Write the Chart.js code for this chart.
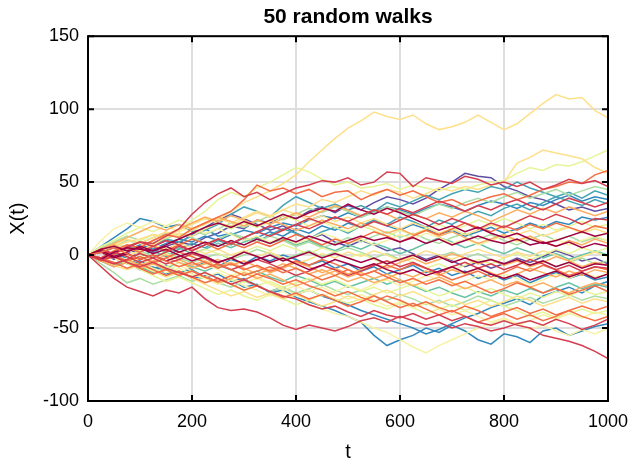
<!DOCTYPE html>
<html>
<head>
<meta charset="utf-8">
<title>50 random walks</title>
<script src="https://cdn.jsdelivr.net/npm/chart.js@4.4.1/dist/chart.umd.min.js"></script>
<style>
  body { margin: 0; background: #fff; }
  canvas { display: block; }
</style>
</head>
<body>
<canvas id="walks" width="630" height="465"></canvas>
<script>
// time steps (every 25th step of the walk)
const steps = [0, 25, 50, 75, 100, 125, 150, 175, 200, 225, 250, 275, 300, 325, 350, 375,
  400, 425, 450, 475, 500, 525, 550, 575, 600, 625, 650, 675, 700, 725, 750, 775,
  800, 825, 850, 875, 900, 925, 950, 975, 1000];

const xTicks = [0, 200, 400, 600, 800, 1000];
const yTicks = [-100, -50, 0, 50, 100, 150];

// X(t) of each walk at those steps
const w01 = [0,2,-3,1, 4,2,6,9, 7,12,15,20, 18,24,22,27, 25,30,33,29, 34,31,36,40, 38,35,39,45, 50,56,54,53, 47,44,40,38, 35,31,33,30, 32];
const w02 = [0,-2,-6,-3, 2,6,10,8, 14,19,24,28, 25,21,17,20, 15,11,14,9, 6,10,7,3, 5,1,-3,0, -4,-8,-5,-9, -6,-2,-5,-1, 3,0,-4,-2, -6];
const w03 = [0,-4,-8,-5, -10,-8,-13,-11, -16,-14,-19,-17, -22,-20,-26,-24, -29,-32,-35,-38, -42,-46,-55,-62, -58,-55,-50,-53, -48,-52,-58,-61, -54,-56,-60,-52, -50,-55,-52,-49, -47];
const w04 = [0,3,-2,-6, -4,-9,-7,-12, -10,-15,-13,-18, -16,-21,-25,-22, -27,-24,-28,-31, -34,-38,-41,-44, -47,-50,-54,-51, -47,-43,-40,-36, -33,-30,-34,-28, -25,-22,-26,-21, -18];
const w05 = [0,6,12,18, 25,23,19,21, 16,18,13,15, 10,12,16,13, 18,15,20,17, 22,19,24,20, 17,21,18,14, 17,13,16,19, 15,18,22,19, 23,21,26,24, 26];
const w06 = [0,-3,1,-2, -6,-10,-8,-12, -9,-5,-8,-3, -6,-1,-4,0, -3,-7,-4,-9, -6,-11,-8,-13, -10,-7,-12,-9, -14,-11,-16,-13, -17,-14,-19,-15, -12,-16,-13,-17, -15];
const w07 = [0,2,5,3, 7,4,8,11, 9,13,10,14, 17,15,19,22, 20,24,27,25, 29,26,30,33, 31,28,32,35, 33,30,34,37, 35,32,36,34, 38,41,37,40, 38];
const w08 = [0,-2,2,5, 3,7,11,9, 13,17,21,28, 33,30,26,34, 40,36,32,35, 31,34,30,36, 33,37,41,38, 42,45,43,47, 45,50,46,43, 40,37,34,38, 35];
const w09 = [0,3,0,-4, -1,3,-1,4, 8,5,10,7, 12,9,14,18, 15,11,16,19, 15,20,24,21, 26,23,19,24, 21,26,30,27, 32,35,31,36, 40,43,39,44, 41];
const w10 = [0,4,8,5, 9,6,2,5, 1,4,8,5, 9,12,8,11, 7,10,6,3, 7,4,8,5, 1,4,8,12, 9,5,8,4, 1,5,2,-2, 1,-3,0,3, 0];
const w11 = [0,-3,-7,-4, -8,-12,-9,-5, -8,-11,-7,-10, -14,-11,-15,-18, -14,-17,-21,-18, -22,-19,-16,-20, -17,-21,-25,-22, -26,-29,-25,-28, -24,-27,-23,-26, -22,-19,-23,-20, -22];
const w12 = [0,3,6,10, 8,12,15,13, 17,14,18,22, 19,23,27,24, 28,32,29,33, 30,26,29,33, 30,27,31,35, 32,36,39,36, 40,43,39,42, 45,41,44,47, 45];
const w13 = [0,-2,2,6, 3,-1,2,-2, -5,-2,1,-3, 0,4,1,-3, 0,3,-1,2, 5,2,-2,1, -3,0,-4,-1, 2,-2,1,-3, -6,-3,-7,-4, -8,-5,-2,-6, -4];
const w14 = [0,-6,-12,-19, -16,-20,-17,-14, -18,-15,-19,-22, -18,-21,-25,-22, -26,-23,-20,-24, -27,-24,-28,-31, -27,-30,-34,-31, -35,-32,-28,-31, -35,-32,-29,-33, -30,-27,-31,-28, -30];
const w15 = [0,5,9,13, 10,14,11,15, 12,8,11,15, 12,9,13,10, 6,9,5,8, 12,9,13,16, 12,15,11,8, 12,15,11,14, 10,7,11,14, 10,13,9,12, 10];
const w16 = [0,4,8,5, 10,14,12,18, 24,30,38,43, 40,46,50,55, 60,57,52,48, 50,46,47,49, 45,48,46,44, 47,45,48,50, 51,56,60,58, 62,61,64,68, 72];
const w17 = [0,-3,0,-4, -7,-4,-8,-11, -15,-12,-16,-20, -24,-21,-18,-22, -19,-16,-20,-17, -21,-25,-22,-26, -23,-20,-24,-28, -25,-22,-26,-23, -27,-30,-26,-29, -25,-28,-24,-27, -25];
const w18 = [0,2,-2,-6, -10,-14,-18,-15, -19,-23,-27,-24, -28,-31,-27,-30, -34,-31,-27,-30, -33,-30,-34,-37, -33,-36,-40,-37, -34,-38,-35,-31, -35,-38,-42,-39, -43,-40,-37,-40, -38];
const w19 = [0,4,1,5, 2,-2,1,-3, 0,4,1,-2, 2,6,3,7, 4,1,5,2, -2,1,-3,-6, -2,-5,-9,-6, -10,-7,-3,-6, -2,1,-3,0, 4,1,5,2, 5];
const w20 = [0,6,10,15, 19,16,20,24, 21,25,22,18, 22,19,23,27, 24,20,23,19, 16,20,17,13, 17,14,18,21, 17,20,24,21, 25,22,18,21, 17,20,23,19, 21];
const w21 = [0,-3,-6,-2, -5,-9,-12,-9, -13,-16,-20,-17, -21,-24,-28,-25, -30,-34,-37,-40, -42,-46,-50,-53, -58,-63,-67,-62, -58,-54,-50,-47, -44,-48,-45,-41, -44,-40,-43,-39, -41];
const w22 = [0,2,-2,-5, -2,-6,-10,-7, -11,-15,-12,-16, -19,-16,-20,-24, -21,-25,-22,-26, -30,-27,-31,-35, -32,-36,-33,-37, -41,-38,-42,-46, -43,-47,-51,-48, -52,-55,-51,-54, -50];
const w23 = [0,10,18,22, 19,23,20,16, 19,15,18,14, 10,13,9,12, 8,11,15,12, 8,11,7,10, 14,11,15,12, 8,11,7,10, 13,9,12,8, 11,7,10,13, 10];
const w24 = [0,-4,-1,3, 0,-4,-8,-5, -9,-6,-10,-14, -11,-15,-19,-23, -27,-24,-28,-25, -21,-24,-20,-17, -21,-18,-14,-17, -21,-18,-14,-17, -13,-16,-20,-17, -13,-16,-12,-15, -13];
const w25 = [0,4,6,9, 11,14,12,17, 21,25,24,30, 36,40,44,49, 55,64,72,80, 87,92,98,95, 93,96,90,86, 88,91,96,91, 86,90,97,104, 110,107,108,99, 94];
const w26 = [0,-3,2,6, 9,7,12,15, 13,18,22,20, 25,29,26,31, 35,33,38,36, 40,44,41,45, 43,39,42,46, 44,47,45,48, 50,63,67,72, 70,68,66,60, 56];
const w27 = [0,-2,2,-1, 3,7,4,8, 5,1,4,0, 3,-1,2,-2, -6,-3,1,-2, 2,-1,3,0, -4,-1,3,0, -3,1,4,1, -2,2,-1,3, 0,-4,-1,2, -1];
const w28 = [0,-3,-7,-10, -7,-11,-15,-12, -16,-20,-24,-28, -25,-29,-26,-30, -27,-31,-35,-32, -28,-31,-27,-24, -28,-25,-29,-33, -30,-34,-31,-35, -32,-28,-31,-35, -32,-29,-33,-30, -32];
const w29 = [0,3,7,11, 8,12,16,13, 17,21,25,22, 26,30,27,31, 28,24,27,23, 26,22,25,21, 18,22,19,15, 18,14,17,21, 18,14,17,13, 16,19,15,18, 15];
const w30 = [0,4,8,12, 16,20,17,21, 18,22,26,23, 20,24,21,25, 29,26,30,34, 31,27,31,28, 24,28,25,29, 26,30,27,23, 27,31,28,32, 29,33,30,27, 30];
const w31 = [0,-4,-8,-5, -9,-6,-2,-5, -9,-6,-3,-7, -4,-8,-12,-9, -5,-8,-12,-9, -13,-10,-6,-9, -5,-2,-6,-3, 1,-2,-6,-3, -7,-4,-8,-5, -1,-4,-8,-5, -7];
const w32 = [0,3,-1,-5, -9,-6,-10,-14, -11,-15,-19,-16, -12,-16,-13,-17, -21,-18,-14,-11, -15,-12,-16,-13, -17,-21,-18,-15, -19,-23,-20,-17, -21,-18,-22,-19, -23,-26,-22,-19, -21];
const w33 = [0,4,7,3, 6,10,14,18, 22,26,23,27, 24,20,24,21, 17,20,24,21, 18,22,19,15, 18,14,17,13, 16,12,8,11, 14,10,13,9, 6,10,7,11, 8];
const w34 = [0,-2,-6,-3, -7,-4,0,-3, -7,-4,-8,-5, -9,-13,-10,-6, -9,-13,-10,-14, -18,-15,-19,-16, -12,-15,-11,-14, -10,-13,-9,-12, -16,-13,-9,-12, -15,-11,-14,-10, -12];
const w35 = [0,-2,3,7, 5,10,14,12, 18,22,26,30, 38,48,44,46, 42,45,40,43, 44,38,42,45, 41,44,40,36, 38,34,37,40, 42,38,41,45, 47,50,49,55, 58];
const w36 = [0,-4,-1,-5, -9,-13,-10,-14, -11,-15,-18,-14, -17,-13,-16,-20, -17,-21,-24,-28, -25,-29,-32,-28, -31,-35,-32,-36, -39,-35,-38,-42, -39,-36,-40,-37, -41,-38,-35,-38, -35];
const w37 = [0,3,0,-4, -1,-5,-2,2, -1,-5,-9,-6, -10,-7,-11,-8, -4,-7,-3,-6, -10,-14,-11,-7, -10,-6,-9,-13, -17,-14,-11,-15, -12,-8,-11,-7, -10,-14,-11,-8, -10];
const w38 = [0,-3,1,5, 2,6,3,7, 11,8,4,8, 5,9,6,10, 14,11,7,11, 8,12,16,13, 9,13,17,14, 18,22,19,16, 20,17,21,18, 22,19,16,20, 18];
const w39 = [0,-2,-5,-9, -6,-10,-14,-11, -15,-19,-16,-20, -24,-21,-25,-29, -26,-30,-27,-31, -35,-32,-28,-32, -36,-33,-37,-41, -38,-42,-46,-43, -40,-44,-41,-45, -42,-38,-42,-45, -42];
const w40 = [0,3,1,6, 9,8,13,18, 28,36,42,46, 40,43,38,42, 46,48,51,50, 53,48,50,57, 56,47,53,51, 49,54,52,48, 50,47,50,45, 48,52,49,51, 47];
const w41 = [0,-3,-1,-5, -8,-5,-9,-12, -15,-12,-16,-20, -17,-21,-25,-28, -30,-34,-37,-35, -39,-42,-38,-41, -43,-40,-44,-41, -45,-42,-46,-48, -45,-48,-50,-55, -57,-59,-62,-66, -71];
const w42 = [0,-8,-16,-22, -25,-28,-24,-26, -22,-30,-36,-38, -37,-39,-43,-48, -51,-48,-50,-52, -49,-45,-43,-46, -42,-45,-48,-46, -50,-47,-49,-52, -50,-47,-45,-48, -44,-47,-51,-48, -44];
const w43 = [0,4,1,5, 9,6,10,7, 3,7,11,8, 12,16,13,17, 21,25,22,26, 23,19,23,20, 24,28,25,21, 25,22,18,22, 19,23,27,24, 28,25,21,25, 24];
const w44 = [0,-2,2,-1, -5,-2,-6,-3, 1,-2,-6,-10, -7,-3,-6,-10, -14,-11,-7,-10, -14,-11,-7,-4, -8,-5,-9,-12, -8,-5,-9,-6, -10,-7,-3,-6, -10,-7,-11,-8, -9];
const w45 = [0,3,-1,2, 6,3,7,11, 15,19,22,19, 23,20,24,28, 25,29,32,30, 35,31,28,32, 29,25,21,17, 20,16,19,15, 12,15,11,8, 10,13,16,13, 15];
const w46 = [0,-3,2,5, 4,3,6,2, 5,9,6,10, 7,11,8,12, 9,13,10,7, 10,13,10,12, 9,12,8,11, 7,10,13,10, 8,11,7,9, 6,9,5,8, 6];
const w47 = [0,2,-2,1, -3,0,-4,-1, 2,-1,-5,-2, -6,-3,0,-4, -1,2,-2,1, -2,-5,-2,-6, -3,0,-4,-1, -5,-2,-5,-3, -6,-3,-7,-4, -8,-5,-9,-6, -7];
const w48 = [0,4,6,3, 5,1,4,0, -4,-1,-5,-2, 2,-1,-5,-2, -6,-10,-7,-3, -6,-9,-6,-10, -13,-10,-14,-11, -8,-12,-9,-13, -16,-13,-17,-14, -11,-15,-12,-16, -13];
const w49 = [0,-3,-6,-3, 1,-2,2,6, 3,7,11,8, 12,16,20,17, 21,18,22,26, 23,27,31,28, 32,29,33,37, 34,30,34,31, 35,38,34,31, 35,39,36,33, 36];
const w50 = [0,2,5,1, -3,0,-4,-8, -5,-9,-6,-10, -14,-11,-8,-12, -9,-13,-17,-14, -10,-14,-11,-15, -19,-16,-20,-17, -21,-18,-22,-26, -23,-19,-22,-26, -23,-27,-24,-21, -25];

const walks = [w01, w02, w03, w04, w05, w06, w07, w08, w09, w10,
  w11, w12, w13, w14, w15, w16, w17, w18, w19, w20,
  w21, w22, w23, w24, w25, w26, w27, w28, w29, w30,
  w31, w32, w33, w34, w35, w36, w37, w38, w39, w40,
  w41, w42, w43, w44, w45, w46, w47, w48, w49, w50];

// spectral colours, one per walk
const walkColors = [
  '#5e4fa2', '#5e4fa2',
  '#3288bd', '#3288bd', '#3288bd', '#3288bd', '#3288bd',
  '#45a3b3', '#45a3b3', '#66c2a5', '#66c2a5',
  '#abdda4', '#abdda4', '#abdda4', '#abdda4',
  '#e6f598', '#e6f598', '#e6f598', '#e6f598', '#e6f598',
  '#f6f2a6', '#f6f2a6', '#f6f2a6', '#f6f2a6',
  '#fee08b', '#fee08b', '#fee08b', '#fee08b', '#fee08b',
  '#fdae61', '#fdae61', '#fdae61', '#fdae61', '#fdae61',
  '#f46d43', '#f46d43', '#f46d43', '#f46d43', '#f46d43',
  '#d53e4f', '#d53e4f', '#d53e4f', '#d53e4f', '#d53e4f',
  '#9e0142', '#9e0142', '#9e0142', '#9e0142',
  '#d53e4f', '#f46d43'
];

Chart.defaults.font.family = '"Liberation Sans", Arial, Helvetica, sans-serif';
Chart.defaults.color = '#000';

// black box round the plot with inward tick marks
const frame = {
  id: 'frame',
  afterDatasetsDraw(chart) {
    const { ctx, chartArea: a, scales: { x, y } } = chart;
    ctx.save();
    ctx.strokeStyle = '#000';
    ctx.lineWidth = 2;
    ctx.strokeRect(a.left, a.top, a.right - a.left, a.bottom - a.top);
    ctx.beginPath();
    xTicks.forEach(v => {
      const px = x.getPixelForValue(v);
      ctx.moveTo(px, a.bottom); ctx.lineTo(px, a.bottom - 6);
      ctx.moveTo(px, a.top); ctx.lineTo(px, a.top + 6);
    });
    yTicks.forEach(v => {
      const py = y.getPixelForValue(v);
      ctx.moveTo(a.left, py); ctx.lineTo(a.left + 6, py);
      ctx.moveTo(a.right, py); ctx.lineTo(a.right - 6, py);
    });
    ctx.stroke();
    ctx.restore();
  }
};

const datasets = walks.map((w, i) => ({
  data: w.map((v, k) => ({ x: steps[k], y: v })),
  borderColor: walkColors[i],
  borderWidth: 1.5,
  pointRadius: 0,
  tension: 0,
  fill: false,
  order: walks.length - i
}));

new Chart(document.getElementById('walks'), {
  type: 'line',
  data: { datasets },
  options: {
    responsive: false,
    devicePixelRatio: 1,
    animation: false,
    events: [],
    layout: { padding: { left: 0, right: 22, top: 0, bottom: 0 } },
    plugins: {
      legend: { display: false },
      tooltip: { enabled: false },
      title: {
        display: true,
        text: '50 random walks',
        fullSize: false,
        color: '#000',
        font: { size: 21, weight: 'bold' },
        padding: { top: 5, bottom: 6 }
      }
    },
    scales: {
      x: {
        type: 'linear',
        min: 0,
        max: 1000,
        afterBuildTicks: s => { s.ticks = xTicks.map(v => ({ value: v })); },
        afterFit: s => { s.height = 64; s.paddingLeft = 0; s.paddingRight = 0; },
        border: { display: false },
        grid: { color: '#dedede', lineWidth: 2, drawTicks: false },
        ticks: { font: { size: 18 }, padding: 10, maxRotation: 0, callback: v => String(v) },
        title: { display: true, text: 't', font: { size: 20 }, padding: { top: 0, bottom: 1 } }
      },
      y: {
        type: 'linear',
        min: -100,
        max: 150,
        afterBuildTicks: s => { s.ticks = yTicks.map(v => ({ value: v })); },
        afterFit: s => { s.width = 88; },
        border: { display: false },
        grid: { color: '#dedede', lineWidth: 2, drawTicks: false },
        ticks: { font: { size: 18 }, padding: 9, callback: v => String(v) },
        title: { display: true, text: 'X(t)', font: { size: 20 }, padding: { top: 6, bottom: 0 } }
      }
    }
  },
  plugins: [frame]
});
</script>
</body>
</html>
